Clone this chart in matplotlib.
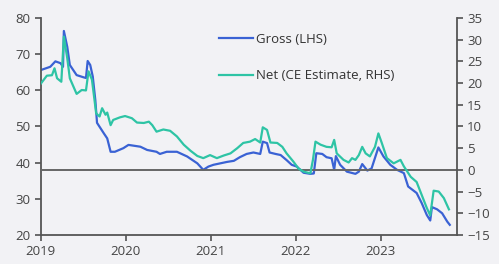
import numpy as np
import matplotlib
matplotlib.use("Agg")
import matplotlib.pyplot as plt

plt.rcParams['font.family'] = ['Open Sans', 'DejaVu Sans']

# Gross (LHS), decimal years
gross_t = [2019.00, 2019.11, 2019.17, 2019.23, 2019.26, 2019.27, 2019.31, 2019.34, 2019.42, 2019.50,
           2019.53, 2019.55, 2019.58, 2019.61, 2019.64, 2019.66, 2019.74, 2019.78, 2019.82, 2019.87,
           2019.97, 2020.03, 2020.17, 2020.25, 2020.36, 2020.40, 2020.48, 2020.60, 2020.72, 2020.84,
           2020.91, 2020.97, 2021.03, 2021.11, 2021.19, 2021.27, 2021.34, 2021.42, 2021.50, 2021.58,
           2021.61, 2021.66, 2021.69, 2021.76, 2021.82, 2021.89, 2021.95, 2022.01, 2022.09, 2022.17,
           2022.21, 2022.24, 2022.31, 2022.36, 2022.42, 2022.45, 2022.47, 2022.52, 2022.60, 2022.70,
           2022.74, 2022.78, 2022.84, 2022.89, 2022.97, 2023.03, 2023.11, 2023.19, 2023.27, 2023.32,
           2023.42, 2023.48, 2023.54, 2023.58, 2023.60, 2023.66, 2023.72, 2023.78, 2023.81]
gross = [65.6, 66.5, 68.0, 67.5, 66.5, 76.4, 72.0, 67.0, 64.2, 63.6,
         63.4, 68.1, 67.0, 63.8, 57.3, 51.0, 48.1, 46.7, 43.0, 43.0,
         44.0, 44.9, 44.4, 43.5, 43.0, 42.4, 43.0, 43.0, 41.7, 39.8,
         38.0, 38.9, 39.4, 39.8, 40.2, 40.5, 41.5, 42.4, 42.8, 42.4,
         45.8, 45.4, 42.8, 42.4, 42.1, 40.7, 39.4, 38.9, 37.2, 36.9,
         37.0, 42.6, 42.4, 41.5, 41.2, 38.0, 41.8, 39.4, 37.5, 36.9,
         37.5, 39.6, 37.8, 38.4, 44.2, 41.7, 39.4, 38.0, 37.1, 33.4,
         31.6, 28.8, 25.5, 24.0, 27.7, 27.1, 26.0, 23.7, 22.8]

# Net (CE estimate, RHS)
net_t = [2019.00, 2019.07, 2019.13, 2019.16, 2019.19, 2019.24, 2019.27, 2019.31, 2019.34, 2019.40,
         2019.42, 2019.48, 2019.53, 2019.56, 2019.60, 2019.62, 2019.65, 2019.69, 2019.72, 2019.76,
         2019.78, 2019.82, 2019.85, 2019.93, 2019.99, 2020.07, 2020.13, 2020.21, 2020.27, 2020.31,
         2020.36, 2020.44, 2020.52, 2020.60, 2020.68, 2020.76, 2020.84, 2020.91, 2020.99, 2021.07,
         2021.15, 2021.23, 2021.31, 2021.38, 2021.46, 2021.52, 2021.58, 2021.61, 2021.66, 2021.70,
         2021.78, 2021.84, 2021.89, 2021.97, 2022.03, 2022.09, 2022.17, 2022.20, 2022.23, 2022.29,
         2022.36, 2022.42, 2022.45, 2022.48, 2022.56, 2022.62, 2022.66, 2022.70, 2022.74, 2022.78,
         2022.82, 2022.87, 2022.93, 2022.97, 2023.01, 2023.07, 2023.15, 2023.23, 2023.27, 2023.35,
         2023.42, 2023.48, 2023.54, 2023.58, 2023.62, 2023.68, 2023.74, 2023.80]
net = [19.9, 21.7, 21.8, 23.4, 21.1, 20.3, 30.7, 25.7, 21.1, 18.4,
       17.5, 18.4, 18.3, 22.7, 20.8, 17.7, 13.0, 12.3, 14.2, 12.7,
       13.2, 10.3, 11.5, 12.1, 12.4, 11.9, 10.9, 10.8, 11.1, 10.3,
       8.8, 9.3, 9.0, 7.7, 5.8, 4.4, 3.2, 2.7, 3.4, 2.7,
       3.3, 3.8, 5.0, 6.2, 6.5, 7.1, 6.3, 9.8, 9.2, 6.3,
       6.2, 5.3, 3.8, 1.9, 0.3, -0.4, -0.8, 2.3, 6.5, 5.8,
       5.3, 5.2, 6.9, 3.8, 2.3, 1.7, 2.7, 2.3, 3.4, 5.3,
       3.8, 3.1, 5.3, 8.4, 6.2, 2.7, 1.5, 2.3, 0.8, -1.6,
       -2.8, -5.8, -8.8, -10.5, -4.8, -5.0, -6.5, -9.1]

years = [2019, 2020, 2021, 2022, 2023]

bg = '#f2f2f5'
blue = '#3a62d4'
teal = '#2ec4a5'
axcol = '#555555'

fig = plt.figure(figsize=(4.99, 2.64), dpi=100, facecolor=bg)
ax = fig.add_axes([0.082, 0.110, 0.833, 0.822], facecolor=bg)
ax2 = ax.twinx()

ax.plot(gross_t, gross, color=blue, lw=1.6, label='Gross (LHS)')
ax2.plot(net_t, net, color=teal, lw=1.6, label='Net (CE Estimate, RHS)')
ax2.axhline(0, color='#666666', lw=1.4, zorder=0)

ax.set_ylim(20, 80)
ax2.set_ylim(-15, 35)
ax.set_xlim(2019, 2023.89)
ax.set_yticks(np.arange(20, 81, 10))
ax2.set_yticks(np.arange(-15, 36, 5))
ax.set_xticks(years)
ax.set_xticklabels([str(y) for y in years])

for a in (ax, ax2):
    a.spines['top'].set_visible(False)
    for s in ('left', 'right', 'bottom'):
        a.spines[s].set_color(axcol)
        a.spines[s].set_linewidth(1.3)
    a.tick_params(colors='#444444', labelsize=9.5, length=4, width=1.1, direction='out')
ax.spines['right'].set_visible(False)
ax2.spines['left'].set_visible(False)
ax2.spines['bottom'].set_visible(False)

h1, l1 = ax.get_legend_handles_labels()
h2, l2 = ax2.get_legend_handles_labels()
leg = ax2.legend(h1 + h2, l1 + l2, loc='upper left', bbox_to_anchor=(0.4, 0.985),
                 frameon=False, fontsize=9.5, labelspacing=1.75, handlelength=2.6,
                 handletextpad=0.2)
for t in leg.get_texts():
    t.set_color('#333333')

fig.savefig('out.png', dpi=100, facecolor=bg)
